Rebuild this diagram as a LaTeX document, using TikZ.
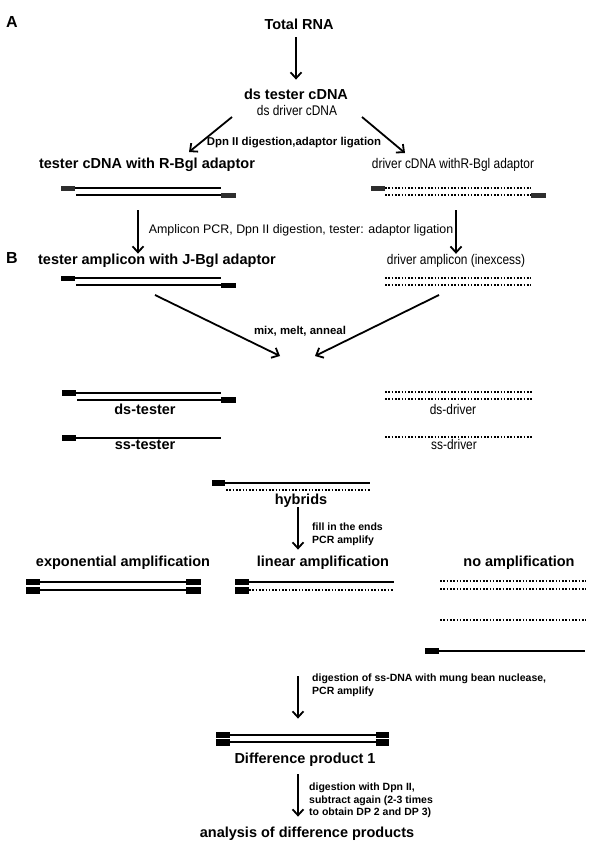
\documentclass[tikz,border=0pt]{standalone}
\usepackage{fontspec}
\setmainfont{Liberation Sans}
\newfontfamily\narrowsans[FakeStretch=0.85]{Liberation Sans}
\usetikzlibrary{arrows.meta,calc}

\tikzset{
  flow/.style={line width=1.8pt,-{Straight Barb[length=6pt,width=11pt]}},
  panel/.style={font=\fontsize{16}{18}\selectfont\bfseries,inner sep=0pt},
  title/.style={font=\fontsize{14.5}{17}\selectfont\bfseries,inner sep=0pt,text height=10.4pt,text depth=0pt},
  driver/.style={font=\narrowsans\fontsize{14}{16}\selectfont,inner sep=0pt,text height=10pt,text depth=0pt},
  plain/.style={font=\fontsize{12.4}{14}\selectfont,inner sep=0pt,text height=8.9pt,text depth=0pt},
  note/.style={font=\fontsize{11.4}{13}\selectfont\bfseries,inner sep=0pt,text height=8.2pt,text depth=0pt},
  remark/.style={font=\fontsize{10.5}{12.2}\selectfont\bfseries,inner sep=0pt,align=left,anchor=north west},
  strand/.style={line width=2pt},
  dotstrand/.style={line width=2pt,dash pattern=on 1.6pt off 1.7pt},
  greyend/.style={fill=black!82},
  adaptor/.style={fill=black}
}

\begin{document}
\begin{tikzpicture}[x=1pt,y=-1pt]
  \useasboundingbox (0,0) rectangle (604,859);
  % panel letters
  \node[panel] (pa) at (12,22) {A};
  \node[panel] (pb) at (12,258) {B};
  % labels
  \node[title] (rna) at (299,24) {Total RNA};
  \node[title] (dsc) at (296,94) {ds tester cDNA};
  \node[driver] (dsd) at (297,110) {ds driver cDNA};
  \node[note] (dpn) at (294,141) {Dpn II digestion,adaptor ligation};
  \node[title] (tcd) at (147,163) {tester cDNA with R-Bgl adaptor};
  \node[driver] (dcd) at (453,163) {driver cDNA withR-Bgl adaptor};
  \node[plain] (pcr) at (301,229) {Amplicon PCR, Dpn II digestion, tester: adaptor ligation};
  \node[title] (tam) at (157,259) {tester amplicon with J-Bgl adaptor};
  \node[driver] (dam) at (456,259) {driver amplicon (inexcess)};
  \node[note] (mix) at (300,330) {mix, melt, anneal};
  \node[title] (dst) at (145,409) {ds-tester};
  \node[title] (sst) at (145,444) {ss-tester};
  \node[driver] (dsdr) at (453,409) {ds-driver};
  \node[driver] (ssdr) at (454,444) {ss-driver};
  \node[title] (hyb) at (301,499) {hybrids};
  \node[remark] (fill) at (312,523) {fill in the ends\\PCR amplify};
  \node[title] (exa) at (123,561) {exponential amplification};
  \node[title] (lin) at (323,561) {linear amplification};
  \node[title] (noa) at (519,561) {no amplification};
  \node[remark] (mung) at (312,674) {digestion of ss-DNA with mung bean nuclease,\\PCR amplify};
  \node[title] (dp1) at (305,758) {Difference product 1};
  \node[remark,font=\fontsize{10.5}{12.5}\selectfont\bfseries] (again) at (309,783) {digestion with Dpn II,\\subtract again (2-3 times\\to obtain DP 2 and DP 3)};
  \node[title] (ana) at (307,832) {analysis of difference products};

  % tester cDNA with R-Bgl adaptor
  \fill[greyend] (61,185.5) rectangle (75,190.5);
  \draw[strand] (75,188) -- (221,188);
  \draw[strand] (76,195) -- (221,195);
  \fill[greyend] (221,192.5) rectangle (236,197.5);
  % driver cDNA with R-Bgl adaptor
  \fill[greyend] (371,185.5) rectangle (385,190.5);
  \draw[dotstrand] (385,188) -- (531,188);
  \draw[dotstrand] (385,195) -- (531,195);
  \fill[greyend] (531,192.5) rectangle (546,197.5);
  % tester amplicon
  \fill[adaptor] (61,275.5) rectangle (75,281);
  \draw[strand] (75,278) -- (221,278);
  \draw[strand] (76,285) -- (221,285);
  \fill[adaptor] (221,282.5) rectangle (236,288);
  % driver amplicon
  \draw[dotstrand] (385,278) -- (531,278);
  \draw[dotstrand] (385,285) -- (531,285);
  % ds-tester and ss-tester
  \fill[adaptor] (62,390) rectangle (76,396);
  \draw[strand] (76,393) -- (221,393);
  \draw[strand] (77,400) -- (221,400);
  \fill[adaptor] (221,397) rectangle (236,403);
  \fill[adaptor] (62,435) rectangle (76,441);
  \draw[strand] (76,438) -- (221,438);
  % ds-driver and ss-driver
  \draw[dotstrand] (385,392) -- (532,392);
  \draw[dotstrand] (385,399) -- (532,399);
  \draw[dotstrand] (385,437) -- (532,437);
  % hybrids
  \fill[adaptor] (212,480) rectangle (225,486);
  \draw[strand] (225,483) -- (370,483);
  \draw[dotstrand] (226,490) -- (370,490);
  % exponential amplification
  \fill[adaptor] (26,578.5) rectangle (40,585.3);
  \fill[adaptor] (26,586.7) rectangle (40,593.5);
  \draw[strand] (40,582) -- (186,582);
  \draw[strand] (40,590) -- (186,590);
  \fill[adaptor] (186,578.5) rectangle (201,585.3);
  \fill[adaptor] (186,586.7) rectangle (201,593.5);
  % linear amplification
  \fill[adaptor] (235,578.5) rectangle (249,585.3);
  \fill[adaptor] (235,586.7) rectangle (249,593.5);
  \draw[strand] (249,582) -- (394,582);
  \draw[dotstrand] (249,590) -- (394,590);
  % no amplification
  \draw[dotstrand] (440,581) -- (586,581);
  \draw[dotstrand] (440,589) -- (586,589);
  \draw[dotstrand] (440,620) -- (586,620);
  \fill[adaptor] (425,648) rectangle (439,654);
  \draw[strand] (439,651) -- (585,651);
  % difference product 1
  \fill[adaptor] (216,731.5) rectangle (230,738);
  \fill[adaptor] (216,739.3) rectangle (230,745.8);
  \draw[strand] (230,735) -- (376,735);
  \draw[strand] (230,742) -- (376,742);
  \fill[adaptor] (376,731.5) rectangle (389,738);
  \fill[adaptor] (376,739.3) rectangle (389,745.8);

  % arrows
  \coordinate (lane) at (298,0);
  \coordinate (splitL) at (232,117);
  \coordinate (splitR) at (362,117);
  \coordinate (intoT) at (189,152);
  \coordinate (intoD) at (405,153);
  \coordinate (tOut) at (138,210);
  \coordinate (dOut) at (456,210);
  \coordinate (tamOut) at (155,295);
  \coordinate (damOut) at (439,295);
  \coordinate (mixL) at (280,356);
  \coordinate (mixR) at (315,356);
  \coordinate (nuc) at (298,676);
  \draw[flow] ($(rna.south)+(-3,8)$) -- ($(dsc.north)+(0,-9)$);
  \draw[flow] (splitL) -- (intoT);
  \draw[flow] (splitR) -- (intoD);
  \draw[flow] (tOut) -- (tOut |- tam.north);
  \draw[flow] (dOut) -- (dOut |- dam.north);
  \draw[flow] (tamOut) -- (mixL);
  \draw[flow] (damOut) -- (mixR);
  \draw[flow] ($(hyb.south -| lane)+(0,3)$) -- ($(lin.north -| lane)+(0,-6)$);
  \draw[flow] (nuc) -- ($(dp1.north -| lane)+(0,-34)$);
  \draw[flow] ($(dp1.south -| lane)+(0,11)$) -- ($(ana.north -| lane)+(0,-10)$);
\end{tikzpicture}
\end{document}
